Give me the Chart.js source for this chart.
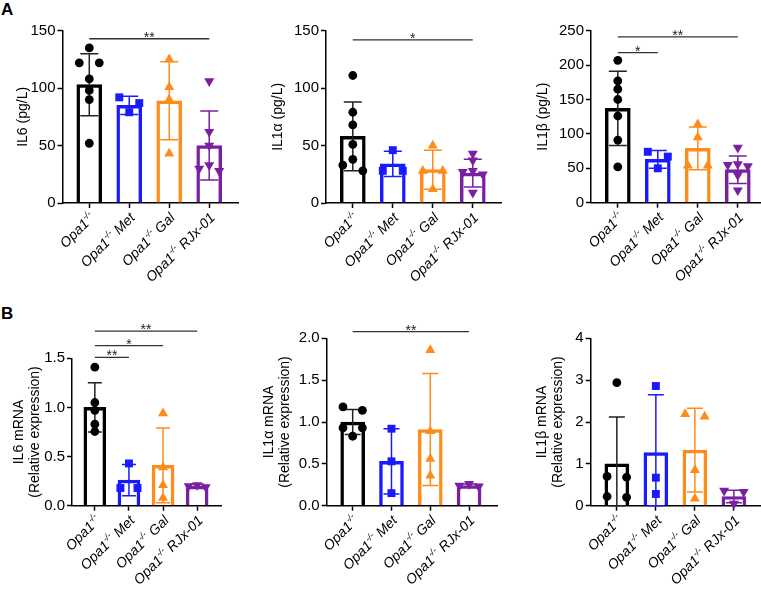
<!DOCTYPE html>
<html>
<head>
<meta charset="utf-8">
<script src="https://cdn.jsdelivr.net/npm/chart.js@4.4.1/dist/chart.umd.min.js"></script>
<style>
  html, body { margin: 0; padding: 0; background: #fff; }
  body { width: 761px; height: 592px; position: relative; overflow: hidden; }
  .pannello { position: absolute; }
  .lettera { position: absolute; font: bold 17px Arial, "Liberation Sans", sans-serif; line-height: 17px; color: #000; }
</style>
</head>
<body>
<div class="lettera" style="left:1px; top:1px">A</div>
<div class="lettera" style="left:1px; top:305px">B</div>
<div id="contenitore"></div>

<script>
// === DATI ===

const categorie = ['Opa1-/-', 'Opa1-/- Met', 'Opa1-/- Gal', 'Opa1-/- RJx-01'];

// IL6 (pg/L)
const il6Medie = [103, 85, 89, 50];
const il6Sd = [27, 8, 34, 30];
const il6Punti = [[135, 122, 122, 108, 98, 90, 52], [92, 87, 79], [125, 101, 90, 43], [106, 62, 50, 33, 30, 28]];
const il6Tick = [0, 50, 100, 150];
const il6Sig = [[0, 3, '**', 143]];

// IL1a (pg/L)
const il1aMedie = [58, 34, 29, 26];
const il1aSd = [30, 11, 17, 12];
const il1aPunti = [[111, 79, 68, 51, 38, 33, 28], [46, 28, 28], [50, 28, 28, 12], [43, 37, 28, 27, 25, 9]];
const il1aTick = [0, 50, 100, 150];
const il1aSig = [[0, 3, '*', 142]];

// IL1b (pg/L)
const il1bMedie = [137, 63, 79, 48];
const il1bSd = [54, 13, 31, 20];
const il1bPunti = [[207, 177, 165, 150, 126, 91, 52], [74, 67, 50], [114, 95, 54, 54], [80, 56, 55, 53, 40, 18]];
const il1bTick = [0, 50, 100, 150, 200, 250];
const il1bSig = [[0, 1, '*', 218], [0, 3, '**', 241]];

// IL6 mRNA
const mIl6Medie = [1.0, 0.26, 0.41, 0.20];
const mIl6Sd = [0.25, 0.16, 0.38, 0.02];
const mIl6Punti = [[1.41, 1.05, 0.97, 0.83, 0.755], [0.43, 0.18, 0.18], [0.94, 0.39, 0.21, 0.08], [0.21, 0.20, 0.19]];
const mIl6Tick = [0, 0.5, 1.0, 1.5];
const mIl6Sig = [[0, 1, '**', 1.51], [0, 2, '*', 1.63], [0, 3, '**', 1.776]];

// IL1a mRNA
const mIl1aMedie = [1.0, 0.53, 0.91, 0.24];
const mIl1aSd = [0.15, 0.39, 0.67, 0.02];
const mIl1aPunti = [[1.18, 1.14, 0.93, 0.93, 0.83], [0.92, 0.53, 0.15], [1.86, 0.89, 0.56, 0.36], [0.26, 0.24, 0.23]];
const mIl1aTick = [0, 0.5, 1.0, 1.5, 2.0];
const mIl1aSig = [[0, 3, '**', 2.08]];

// IL1b mRNA
const mIl1bMedie = [1.0, 1.27, 1.33, 0.22];
const mIl1bSd = [1.12, 1.38, 1.0, 0.15];
const mIl1bPunti = [[2.94, 0.70, 0.68, 0.22, 0.20], [2.86, 0.67, 0.28], [2.19, 2.13, 0.85, 0.17], [0.36, 0.33, 0.05]];
const mIl1bTick = [0, 1, 2, 3, 4];
const mIl1bSig = [];

// === STILE ===

const famiglia = 'Arial, "Liberation Sans", Helvetica, sans-serif';
const colori = ['#000000', '#1a1aff', '#ff8c1a', '#7b1fa2'];
const coloriErrori = ['#222222', '#1a1aff', '#ff8c1a', '#7b1fa2'];
const simboli = ['circle', 'rect', 'triangle', 'triangle'];
const rotazioni = [0, 0, 0, 180];
const raggi = [4.4, 5.6, 5.8, 5.8];
const xMin = -0.67, xMax = 3.72;
const passoJitter = 0.25;

// tela = [x, y, larghezza, altezza], area = [sinistra, alto, destra, basso]
const pannelli = [
  { titolo: 'IL6 (pg/L)', medie: il6Medie, sd: il6Sd, punti: il6Punti, tick: il6Tick, sig: il6Sig, decimali: 0,
    tela: [0, 16, 250, 280], area: [62.5, 30.7, 238, 203], titoloX: 23, barra: 25, cappello: 9 },
  { titolo: 'IL1α (pg/L)', medie: il1aMedie, sd: il1aSd, punti: il1aPunti, tick: il1aTick, sig: il1aSig, decimali: 0,
    tela: [250, 16, 262, 280], area: [326, 30.7, 501.6, 203], titoloX: 278, barra: 25, cappello: 9 },
  { titolo: 'IL1β (pg/L)', medie: il1bMedie, sd: il1bSd, punti: il1bPunti, tick: il1bTick, sig: il1bSig, decimali: 0,
    tela: [505, 16, 270, 280], area: [591, 30.7, 766.6, 202.7], titoloX: 543, barra: 25, cappello: 9 },
  { titolo: ['IL6 mRNA', '(Relative expression)'], medie: mIl6Medie, sd: mIl6Sd, punti: mIl6Punti, tick: mIl6Tick, sig: mIl6Sig, decimali: 1,
    tela: [0, 300, 250, 292], area: [72, 358.3, 221.7, 505.7], titoloX: 19, barra: 22, cappello: 7 },
  { titolo: ['IL1α mRNA', '(Relative expression)'], medie: mIl1aMedie, sd: mIl1aSd, punti: mIl1aPunti, tick: mIl1aTick, sig: mIl1aSig, decimali: 1,
    tela: [250, 300, 262, 292], area: [326.7, 338.3, 497, 505.7], titoloX: 269, barra: 24, cappello: 8 },
  { titolo: ['IL1β mRNA', '(Relative expression)'], medie: mIl1bMedie, sd: mIl1bSd, punti: mIl1bPunti, tick: mIl1bTick, sig: mIl1bSig, decimali: 0,
    tela: [505, 300, 270, 292], area: [590.7, 338.3, 762, 505.7], titoloX: 542, barra: 24, cappello: 8 }
];

// === DISPOSIZIONE DEI PUNTI (gruppi vicini affiancati) ===

function scostamenti(valori, soglia) {
  const ordine = valori.map((v, k) => k).sort((a, b) => valori[b] - valori[a]);
  const out = new Array(valori.length).fill(0);
  let gruppo = [];
  const chiudi = () => {
    const n = gruppo.length;
    gruppo.forEach((k, j) => {
      let pos;
      if (n % 2) pos = j === 0 ? 0 : (j % 2 ? -1 : 1) * Math.ceil(j / 2);
      else pos = (j % 2 ? 1 : -1) * (Math.floor(j / 2) + 1);
      out[k] = pos * passoJitter;
    });
    gruppo = [];
  };
  ordine.forEach(k => {
    if (gruppo.length && valori[gruppo[gruppo.length - 1]] - valori[k] >= soglia) chiudi();
    gruppo.push(k);
  });
  chiudi();
  return out;
}

// === PLUGIN: barre di errore, significativita, etichette asse x ===

const pluginErrori = {
  id: 'errori',
  afterDatasetDraw(chart, args) {
    if (args.index !== 0) return;
    const p = chart.options.plugins.errori;
    const {ctx, scales: {x, y}} = chart;
    ctx.save();
    ctx.lineWidth = 1.5;
    p.medie.forEach((m, i) => {
      const cx = x.getPixelForValue(i);
      const yAlto = y.getPixelForValue(m + p.sd[i]);
      const yBasso = y.getPixelForValue(Math.max(m - p.sd[i], 0));
      ctx.strokeStyle = coloriErrori[i];
      ctx.beginPath();
      ctx.moveTo(cx, yBasso); ctx.lineTo(cx, yAlto);
      ctx.moveTo(cx - p.cappello, yAlto); ctx.lineTo(cx + p.cappello, yAlto);
      ctx.moveTo(cx - p.cappello, yBasso); ctx.lineTo(cx + p.cappello, yBasso);
      ctx.stroke();
    });
    ctx.restore();
  }
};

const pluginSig = {
  id: 'sig',
  afterDraw(chart) {
    const p = chart.options.plugins.sig;
    const {ctx, scales: {x, y}} = chart;
    ctx.save();
    ctx.strokeStyle = '#333';
    ctx.fillStyle = '#222';
    ctx.lineWidth = 1.3;
    ctx.font = '14px ' + famiglia;
    ctx.textAlign = 'center';
    ctx.textBaseline = 'alphabetic';
    p.confronti.forEach(([a, b, testo, v]) => {
      const x1 = x.getPixelForValue(a), x2 = x.getPixelForValue(b);
      const yy = y.getPixelForValue(v);
      ctx.beginPath();
      ctx.moveTo(x1, yy); ctx.lineTo(x2, yy);
      ctx.stroke();
      ctx.fillText(testo, (x1 + x2) / 2, yy + 3);
    });
    ctx.restore();
  }
};

const pluginEtichette = {
  id: 'etichette',
  afterDraw(chart) {
    const {ctx, chartArea, scales: {x}} = chart;
    const fontNormale = 'italic 14px ' + famiglia;
    const fontApice = 'italic 9px ' + famiglia;
    ctx.save();
    ctx.fillStyle = '#000';
    ctx.textBaseline = 'alphabetic';
    ctx.textAlign = 'left';
    categorie.forEach((nome, i) => {
      const [base, resto] = nome.split('-/-');
      ctx.save();
      ctx.translate(x.getPixelForValue(i) + 3, chartArea.bottom + 12);
      ctx.rotate(-Math.PI / 4);
      ctx.font = fontNormale;
      const w1 = ctx.measureText(base).width;
      const w3 = ctx.measureText(resto).width;
      ctx.font = fontApice;
      const w2 = ctx.measureText('-/-').width;
      let cx = -(w1 + w2 + w3);
      ctx.font = fontNormale; ctx.fillText(base, cx, 5); cx += w1;
      ctx.font = fontApice; ctx.fillText('-/-', cx, -1); cx += w2;
      ctx.font = fontNormale; ctx.fillText(resto, cx, 5);
      ctx.restore();
    });
    ctx.restore();
  }
};

// === GRAFICI ===

document.addEventListener("DOMContentLoaded", () => {
  const contenitore = document.getElementById('contenitore');

  pannelli.forEach(p => {
    const [tx, ty, tw, th] = p.tela;
    const [L, T, R, B] = p.area;
    const lineaTitolo = 16;
    const padL = p.titoloX - tx - lineaTitolo / 2;

    const div = document.createElement('div');
    div.className = 'pannello';
    div.style.left = tx + 'px';
    div.style.top = ty + 'px';
    const canvas = document.createElement('canvas');
    canvas.width = tw; canvas.height = th;
    canvas.style.width = tw + 'px'; canvas.style.height = th + 'px';
    div.appendChild(canvas);
    contenitore.appendChild(div);

    const massimo = p.tick[p.tick.length - 1];
    const soglia = massimo * 0.04;

    const datasetPunti = p.punti.map((valori, i) => {
      const off = scostamenti(valori, soglia);
      return {
        type: 'scatter',
        data: valori.map((v, k) => ({x: i + off[k], y: v})),
        pointStyle: simboli[i],
        rotation: rotazioni[i],
        pointRadius: raggi[i],
        backgroundColor: colori[i],
        borderColor: colori[i],
        borderWidth: 0,
        order: 1,
        clip: false
      };
    });

    const grigliaAsse = {
      display: true, offset: false, drawOnChartArea: false, drawTicks: true,
      tickLength: 5, tickWidth: 1.5, tickColor: '#000'
    };

    new Chart(canvas.getContext('2d'), {
      type: 'bar',
      data: {
        datasets: [{
          data: p.medie.map((m, i) => ({x: i, y: m})),
          backgroundColor: 'rgba(255,255,255,0)',
          borderColor: colori,
          borderWidth: 2.8,
          barThickness: p.barra,
          order: 2
        }, ...datasetPunti]
      },
      options: {
        responsive: false,
        animation: false,
        devicePixelRatio: 1,
        layout: { padding: { left: padL, top: T - ty, right: tx + tw - R, bottom: 0 } },
        plugins: {
          legend: { display: false },
          tooltip: { enabled: false },
          errori: { medie: p.medie, sd: p.sd, cappello: p.cappello },
          sig: { confronti: p.sig }
        },
        scales: {
          x: {
            type: 'linear', min: xMin, max: xMax, offset: false,
            afterBuildTicks: s => { s.ticks = categorie.map((c, i) => ({value: i})); },
            afterFit: s => { s.height = ty + th - B; },
            ticks: { display: false },
            grid: grigliaAsse,
            border: { color: '#000', width: 1.5 }
          },
          y: {
            type: 'linear', min: 0, max: massimo,
            afterBuildTicks: s => { s.ticks = p.tick.map(v => ({value: v})); },
            afterFit: s => { s.width = L - tx - padL; },
            ticks: {
              color: '#000', padding: 2,
              font: { size: 15, family: famiglia },
              callback: v => v.toFixed(p.decimali)
            },
            grid: grigliaAsse,
            border: { color: '#000', width: 1.5 },
            title: {
              display: true, text: p.titolo, color: '#000', padding: 0,
              font: { size: 14, family: famiglia, lineHeight: lineaTitolo / 14 }
            }
          }
        }
      },
      plugins: [pluginErrori, pluginSig, pluginEtichette]
    });
  });
});
</script>
</body>
</html>
